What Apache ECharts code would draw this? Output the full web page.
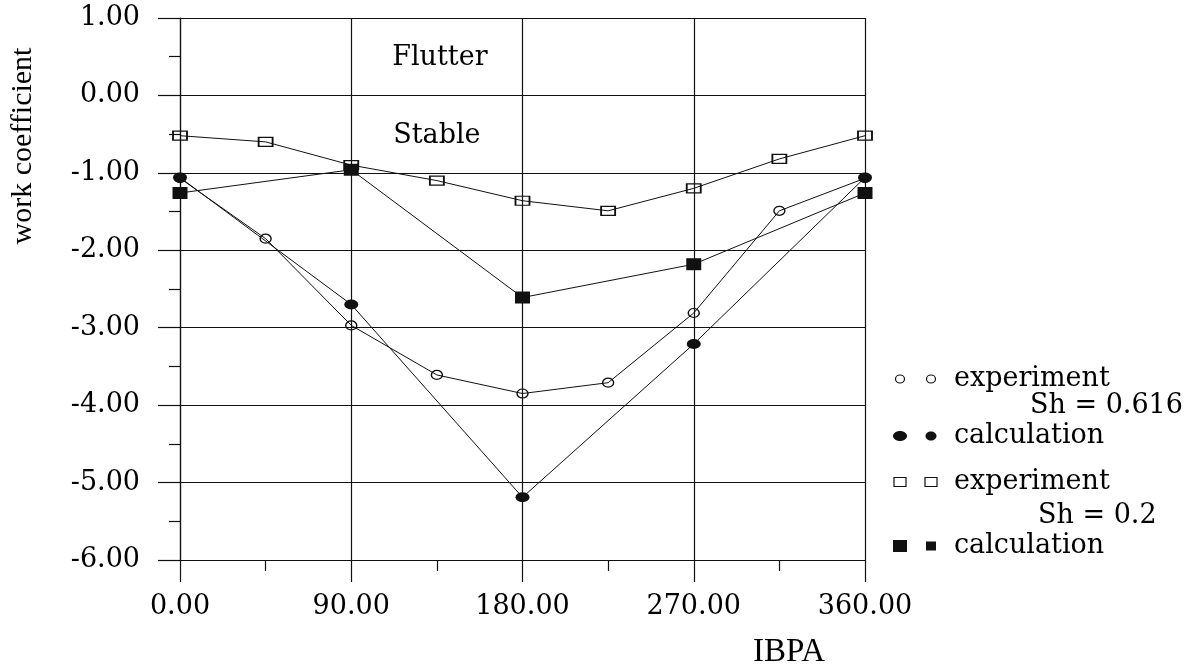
<!DOCTYPE html>
<html>
<head>
<meta charset="utf-8">
<script src="https://cdn.jsdelivr.net/npm/echarts@6/dist/echarts.min.js"></script>
<style>
html,body{margin:0;padding:0;background:#fff;}
#chart{width:1200px;height:666px;}
</style>
</head>
<body>
<div id="chart"></div>
<script>
// ---- data ----
var ibpaExp = [0, 45, 90, 135, 180, 225, 270, 315, 360];
var ibpaCalc = [0, 90, 180, 270, 360];
var expSh0616 = [-1.07, -1.85, -2.97, -3.61, -3.85, -3.71, -2.81, -1.49, -1.07];
var calcSh0616 = [-1.06, -2.70, -5.19, -3.21, -1.06];
var expSh02 = [-0.52, -0.60, -0.90, -1.10, -1.36, -1.49, -1.20, -0.82, -0.52];
var calcSh02 = [-1.26, -0.96, -2.61, -2.18, -1.26];
var xTicks = [0, 90, 180, 270, 360];
var yTicks = [-6, -5, -4, -3, -2, -1, 0, 1];
var yName = 'work coefficient';
var xName = 'IBPA';
var regionLabels = ['Flutter', 'Stable'];
var legendRows = ['experiment', 'Sh = 0.616', 'calculation', 'experiment', 'Sh = 0.2', 'calculation'];

function pairs(xs, ys) { return xs.map(function (x, i) { return [x, ys[i]]; }); }

var SERIF = '"DejaVu Serif", serif';
var TIMES = '"Liberation Serif", "Times New Roman", serif';
var INK = '#111';

var chart = echarts.init(document.getElementById('chart'), null, {renderer: 'canvas'});

var lineStyle = {color: INK, width: 1};

var option = {
  backgroundColor: '#fff',
  animation: false,
  grid: {left: 180, top: 18, width: 685, height: 542, containLabel: false},
  xAxis: {
    type: 'value', min: xTicks[0], max: xTicks[xTicks.length - 1], interval: 90,
    axisLine: {show: true, onZero: false, lineStyle: {color: INK, width: 1.2}},
    axisTick: {show: true, inside: false, length: 22, lineStyle: {color: INK, width: 1.2}},
    minorTick: {show: true, splitNumber: 2, length: 11, lineStyle: {color: INK, width: 1.2}},
    splitLine: {show: true, lineStyle: {color: INK, width: 1.2}},
    axisLabel: {margin: 33, color: '#000', fontFamily: SERIF, fontSize: 27,
      formatter: function (v) { return v.toFixed(2); }}
  },
  yAxis: {
    type: 'value', min: yTicks[0], max: yTicks[yTicks.length - 1], interval: 1,
    axisLine: {show: true, onZero: false, lineStyle: {color: INK, width: 1.2}},
    axisTick: {show: true, inside: false, length: 22, lineStyle: {color: INK, width: 1.2}},
    minorTick: {show: true, splitNumber: 2, length: 11, lineStyle: {color: INK, width: 1.2}},
    splitLine: {show: true, lineStyle: {color: INK, width: 1.2}},
    axisLabel: {margin: 40, color: '#000', fontFamily: SERIF, fontSize: 27,
      formatter: function (v) { return v.toFixed(2); }}
  },
  series: [
    {
      name: 'experiment Sh=0.616', type: 'line', data: pairs(ibpaExp, expSh0616),
      symbol: 'circle', symbolSize: [11, 9], lineStyle: lineStyle,
      itemStyle: {color: 'rgba(255,255,255,0)', borderColor: INK, borderWidth: 1.3}, z: 3
    },
    {
      name: 'calculation Sh=0.616', type: 'line', data: pairs(ibpaCalc, calcSh0616),
      symbol: 'circle', symbolSize: [14, 10], lineStyle: lineStyle,
      itemStyle: {color: INK, borderColor: INK, borderWidth: 0}, z: 4
    },
    {
      name: 'experiment Sh=0.2', type: 'line', data: pairs(ibpaExp, expSh02),
      symbol: 'rect', symbolSize: [14, 9], lineStyle: lineStyle,
      itemStyle: {color: 'rgba(255,255,255,0)', borderColor: INK, borderWidth: 1.5}, z: 3
    },
    {
      name: 'calculation Sh=0.2', type: 'line', data: pairs(ibpaCalc, calcSh02),
      symbol: 'rect', symbolSize: [15, 12], lineStyle: lineStyle,
      itemStyle: {color: INK, borderColor: INK, borderWidth: 0}, z: 4
    }
  ],
  graphic: []
};

chart.setOption(option);

// ---- annotations & legend ----
var g = [];
g.push({type: 'text', x: 23, y: 146, rotation: Math.PI / 2,
  style: {text: yName, fontFamily: TIMES, fontSize: 30, fill: '#000', align: 'center', verticalAlign: 'middle'}});
g.push({type: 'text', x: 789, y: 652,
  style: {text: xName, fontFamily: TIMES, fontSize: 33, fill: '#000', align: 'center', verticalAlign: 'middle'}});

// region labels placed at data coordinates
var pF = chart.convertToPixel({gridIndex: 0}, [135, 0.5]);
var pS = chart.convertToPixel({gridIndex: 0}, [135, -0.5]);
g.push({type: 'text', x: pF[0] + 3, y: pF[1] + 1,
  style: {text: regionLabels[0], fontFamily: SERIF, fontSize: 27, fill: '#000', align: 'center', verticalAlign: 'middle'}});
g.push({type: 'text', x: pS[0], y: pS[1] + 2,
  style: {text: regionLabels[1], fontFamily: SERIF, fontSize: 27, fill: '#000', align: 'center', verticalAlign: 'middle'}});

// legend
var rowY = [379, 406, 436, 482, 516, 546];
var sx1 = 900, sx2 = 931, tx = 954;
function legText(t, x, y) {
  g.push({type: 'text', x: x, y: y,
    style: {text: t, fontFamily: SERIF, fontSize: 27, fill: '#000', align: 'left', verticalAlign: 'middle'}});
}
// open circles
g.push({type: 'ellipse', shape: {cx: sx1, cy: rowY[0], rx: 4.5, ry: 4}, style: {fill: '#fff', stroke: INK, lineWidth: 1.2}});
g.push({type: 'ellipse', shape: {cx: sx2, cy: rowY[0], rx: 4.5, ry: 4}, style: {fill: '#fff', stroke: INK, lineWidth: 1.2}});
legText(legendRows[0], tx, rowY[0]);
legText(legendRows[1], 1030, rowY[1]);
// filled circles
g.push({type: 'ellipse', shape: {cx: sx1, cy: rowY[2], rx: 7, ry: 5}, style: {fill: INK}});
g.push({type: 'ellipse', shape: {cx: sx2, cy: rowY[2], rx: 5.5, ry: 4.5}, style: {fill: INK}});
legText(legendRows[2], tx, rowY[2]);
// open squares
g.push({type: 'rect', shape: {x: sx1 - 6, y: rowY[3] - 4.5, width: 12, height: 9}, style: {fill: '#fff', stroke: INK, lineWidth: 1.2}});
g.push({type: 'rect', shape: {x: sx2 - 6, y: rowY[3] - 4.5, width: 12, height: 9}, style: {fill: '#fff', stroke: INK, lineWidth: 1.2}});
legText(legendRows[3], tx, rowY[3]);
legText(legendRows[4], 1038, rowY[4]);
// filled squares
g.push({type: 'rect', shape: {x: sx1 - 7, y: rowY[5] - 6, width: 14, height: 12}, style: {fill: INK}});
g.push({type: 'rect', shape: {x: sx2 - 5, y: rowY[5] - 4.5, width: 10, height: 9}, style: {fill: INK}});
legText(legendRows[5], tx, rowY[5]);

chart.setOption({graphic: g});
</script>
</body>
</html>
